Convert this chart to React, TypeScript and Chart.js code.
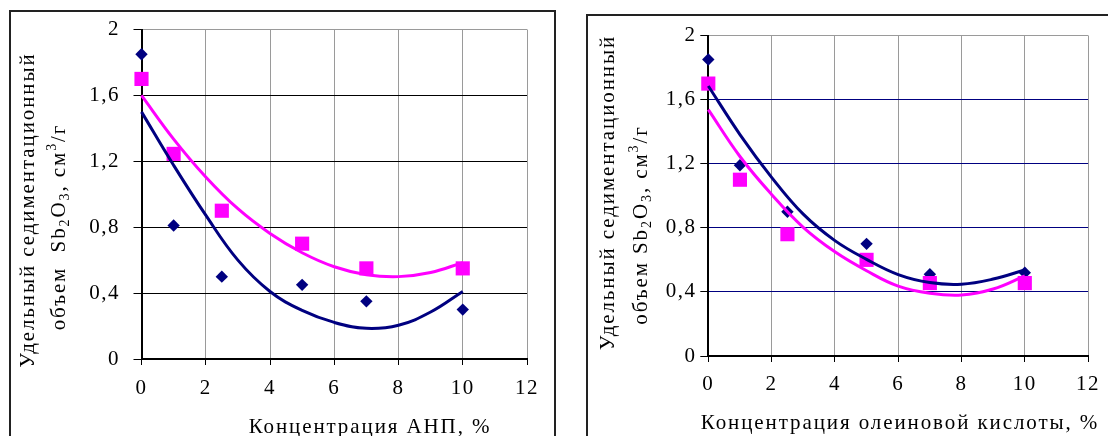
import React, { useEffect, useRef } from 'react';
import { Chart, registerables } from 'chart.js';

Chart.register(...registerables);

// ---------- data ----------
const xPoints = [0, 1, 2.5, 5, 7, 10];
const trendX = [0, 1, 2, 3, 4, 5, 6, 7, 8, 9, 10];

const anpDiamonds = [1.85, 0.81, 0.5, 0.45, 0.35, 0.3];
const anpSquares = [1.7, 1.245, 0.9, 0.7, 0.55, 0.55];
const anpTrendBlue = [1.5, 1.176, 0.873, 0.6, 0.41, 0.295, 0.222, 0.186, 0.205, 0.285, 0.41];
const anpTrendPink = [1.6, 1.335, 1.105, 0.912, 0.762, 0.645, 0.56, 0.512, 0.5, 0.525, 0.585];

const oleicDiamonds = [1.85, 1.19, 0.9, 0.7, 0.51, 0.52];
const oleicSquares = [1.7, 1.1, 0.76, 0.6, 0.455, 0.455];
const oleicTrendBlue = [1.685, 1.382, 1.115, 0.885, 0.72, 0.603, 0.508, 0.458, 0.448, 0.48, 0.537];
const oleicTrendPink = [1.537, 1.245, 1.008, 0.803, 0.65, 0.532, 0.436, 0.392, 0.381, 0.418, 0.5];

const yTickLabels = ['0', '0,4', '0,8', '1,2', '1,6', '2'];
const xTickLabels = ['0', '2', '4', '6', '8', '10', '12'];

const yTitleLine1 = 'Удельный седиментационный';
const anpXTitle = 'Концентрация АНП, %';
const oleicXTitle = 'Концентрация олеиновой кислоты, %';

// ---------- styling ----------
const FONT = "'Liberation Serif', 'Times New Roman', serif";
const NAVY = '#000080';
const MAGENTA = '#FF00FF';
const GRAY = '#9a9a9a';
const TICK_SIZE = 21;
const TITLE_SIZE = 21;

type Seg = { t: string; s?: 'sub' | 'sup' };

function yTitleLine2(gap: string): Seg[] {
  return [
    { t: 'объем' + gap + 'Sb' },
    { t: '2', s: 'sub' },
    { t: 'O' },
    { t: '3', s: 'sub' },
    { t: ', см' },
    { t: '3', s: 'sup' },
    { t: '/г' },
  ];
}

function drawRich(ctx: CanvasRenderingContext2D, segs: Seg[], cx: number, cy: number, size: number, rotate: boolean, ls: number) {
  ctx.save();
  ctx.translate(cx, cy);
  if (rotate) ctx.rotate(-Math.PI / 2);
  ctx.textBaseline = 'middle';
  ctx.textAlign = 'left';
  ctx.fillStyle = '#000';
  (ctx as any).letterSpacing = ls + 'px';
  const fonts = segs.map((sg) => (sg.s ? Math.round(size * 0.66) : size) + 'px ' + FONT);
  let total = 0;
  const widths = segs.map((sg, i) => {
    ctx.font = fonts[i];
    const w = ctx.measureText(sg.t).width;
    total += w;
    return w;
  });
  let x = -total / 2;
  segs.forEach((sg, i) => {
    ctx.font = fonts[i];
    const dy = sg.s === 'sub' ? size * 0.3 : sg.s === 'sup' ? -size * 0.32 : 0;
    ctx.fillText(sg.t, x, dy);
    x += widths[i];
  });
  ctx.restore();
}

interface PanelSpec {
  diamonds: number[];
  squares: number[];
  trendBlue: number[];
  trendPink: number[];
  hGrid: string;
  canvasLeft: number;
  width: number;
  height: number;
  area: { left: number; right: number; top: number; bottom: number };
  yTickPad: number;
  xTickPad: number;
  xTitle: string;
  xTitlePos: [number, number];
  y1Pos: [number, number];
  y2Pos: [number, number];
  y2Gap: string;
}

function Panel({ spec }: { spec: PanelSpec }) {
  const ref = useRef<HTMLCanvasElement | null>(null);
  useEffect(() => {
    if (!ref.current) return;
    const s = spec;
    const pts = (ys: number[], xs: number[]) => ys.map((y, i) => ({ x: xs[i], y }));
    const titles = {
      id: 'panelTitles',
      beforeDraw(chart: any) {
        (chart.ctx as any).letterSpacing = '1.5px';
      },
      afterDraw(chart: any) {
        const ctx = chart.ctx as CanvasRenderingContext2D;
        drawRich(ctx, [{ t: s.xTitle }], s.xTitlePos[0], s.xTitlePos[1], TITLE_SIZE, false, 1.9);
        drawRich(ctx, [{ t: yTitleLine1 }], s.y1Pos[0], s.y1Pos[1], TITLE_SIZE, true, 1.9);
        drawRich(ctx, yTitleLine2(s.y2Gap), s.y2Pos[0], s.y2Pos[1], TITLE_SIZE, true, 1.9);
      },
    };
    const chart = new Chart(ref.current, {
      type: 'scatter',
      data: {
        datasets: [
          {
            data: pts(s.trendBlue, trendX),
            showLine: true,
            borderColor: NAVY,
            borderWidth: 3,
            pointRadius: 0,
            tension: 0.4,
            order: 0,
            clip: false,
          },
          {
            data: pts(s.trendPink, trendX),
            showLine: true,
            borderColor: MAGENTA,
            borderWidth: 3,
            pointRadius: 0,
            tension: 0.4,
            order: 1,
            clip: false,
          },
          {
            data: pts(s.squares, xPoints),
            pointStyle: 'rect',
            pointRadius: 10,
            backgroundColor: MAGENTA,
            borderWidth: 0,
            order: 2,
            clip: false,
          },
          {
            data: pts(s.diamonds, xPoints),
            pointStyle: 'rectRot',
            pointRadius: 6.2,
            backgroundColor: NAVY,
            borderWidth: 0,
            order: 3,
            clip: false,
          },
        ] as any,
      },
      options: {
        animation: false,
        responsive: false,
        maintainAspectRatio: false,
        devicePixelRatio: 1,
        layout: { padding: { left: 0, right: s.width - s.area.right, top: s.area.top, bottom: 0 } },
        plugins: { legend: { display: false }, tooltip: { enabled: false } },
        scales: {
          x: {
            type: 'linear',
            min: 0,
            max: 12,
            ticks: {
              stepSize: 2,
              autoSkip: false,
              maxRotation: 0,
              padding: s.xTickPad,
              color: '#000',
              font: { family: FONT, size: TICK_SIZE },
              callback: (_v: any, i: number) => xTickLabels[i],
            },
            grid: { color: GRAY, lineWidth: 1, tickLength: 6, tickColor: '#000' },
            border: { display: true, color: '#000', width: 2 },
            afterFit: (sc: any) => {
              sc.height = s.height - s.area.bottom;
            },
          },
          y: {
            type: 'linear',
            min: 0,
            max: 2,
            ticks: {
              stepSize: 0.4,
              autoSkip: false,
              padding: s.yTickPad,
              color: '#000',
              font: { family: FONT, size: TICK_SIZE },
              callback: (_v: any, i: number) => yTickLabels[i],
            },
            grid: {
              color: (c: any) => (c.tick && c.tick.value > 1.99 ? GRAY : s.hGrid),
              lineWidth: 1,
              tickLength: 8,
              tickColor: '#000',
            },
            border: { display: true, color: '#000', width: 2 },
            afterFit: (sc: any) => {
              sc.width = s.area.left;
            },
          },
        },
      } as any,
      plugins: [titles],
    });
    return () => chart.destroy();
  }, [spec]);
  return (
    <canvas
      ref={ref}
      width={spec.width}
      height={spec.height}
      style={{ position: 'absolute', left: spec.canvasLeft, top: 0, width: spec.width, height: spec.height }}
    />
  );
}

const leftSpec: PanelSpec = {
  diamonds: anpDiamonds,
  squares: anpSquares,
  trendBlue: anpTrendBlue,
  trendPink: anpTrendPink,
  hGrid: '#000',
  canvasLeft: 0,
  width: 570,
  height: 436,
  area: { left: 141.5, right: 527, top: 29.5, bottom: 359 },
  yTickPad: 13.5,
  xTickPad: 10.8,
  xTitle: anpXTitle,
  xTitlePos: [370, 427],
  y1Pos: [28.5, 210],
  y2Pos: [59, 227],
  y2Gap: '  ',
};

const rightSpec: PanelSpec = {
  diamonds: oleicDiamonds,
  squares: oleicSquares,
  trendBlue: oleicTrendBlue,
  trendPink: oleicTrendPink,
  hGrid: NAVY,
  canvasLeft: 570,
  width: 538,
  height: 436,
  area: { left: 138.3, right: 523.3, top: 35.5, bottom: 356 },
  yTickPad: 3.8,
  xTickPad: 9.4,
  xTitle: oleicXTitle,
  xTitlePos: [330, 423],
  y1Pos: [38, 192.5],
  y2Pos: [71, 225],
  y2Gap: ' ',
};

export default function App() {
  return (
    <div
      style={{
        position: 'absolute',
        left: 0,
        top: 0,
        width: 1108,
        height: 436,
        overflow: 'hidden',
        background: '#fff',
      }}
    >
      <div
        style={{
          position: 'absolute',
          left: 9,
          top: 10,
          width: 547,
          height: 460,
          border: '2px solid #222',
          boxSizing: 'border-box',
        }}
      />
      <div
        style={{
          position: 'absolute',
          left: 586,
          top: 14,
          width: 600,
          height: 460,
          border: '2px solid #222',
          boxSizing: 'border-box',
        }}
      />
      <Panel spec={leftSpec} />
      <Panel spec={rightSpec} />
    </div>
  );
}
